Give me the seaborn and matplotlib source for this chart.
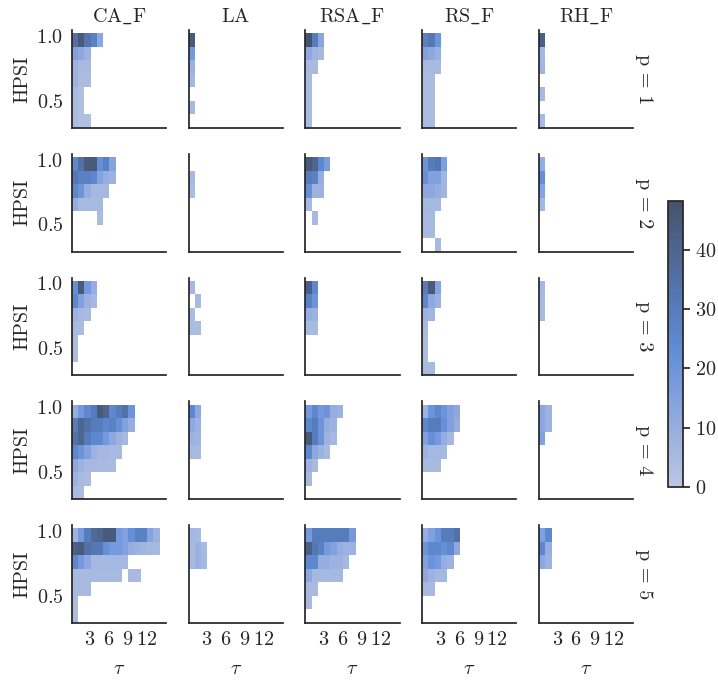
import numpy as np
import pandas as pd
import seaborn as sns
import matplotlib.pyplot as plt

methods = ['CA_F', 'LA', 'RSA_F', 'RS_F', 'RH_F']
ps = [1, 2, 3, 4, 5]

# counts per panel, one block per p; rows go from the top HPSI bin down,
# columns are tau bins from the left (trailing empty bins left out)
ca_f = [
    [[35, 45, 33, 28, 12], [15, 12, 8], [8, 5, 5], [8, 4, 4], [4, 3], [4, 3], [4, 3, 3]],
    [[25, 35, 45, 45, 22, 28, 14], [32, 28, 28, 25, 14, 10, 8], [25, 20, 10, 6, 6, 6],
     [10, 5, 5, 5, 5], [0, 0, 0, 0, 4], [], []],
    [[22, 45, 18, 10], [25, 15, 8, 6], [8, 6, 5], [5, 4], [4], [4], []],
    [[10, 18, 25, 30, 45, 40, 25, 30, 35, 20], [30, 40, 35, 30, 30, 25, 28, 22, 15, 10],
     [35, 40, 30, 25, 25, 18, 12, 8, 6], [25, 20, 15, 8, 6, 6, 5, 5],
     [12, 8, 6, 6, 5, 5, 5], [8, 5, 4], [4, 4]],
    [[8, 18, 30, 38, 40, 45, 45, 18, 15, 22, 28, 28, 14, 8],
     [42, 45, 35, 32, 32, 22, 18, 18, 15, 10, 8, 7, 6, 6],
     [25, 18, 12, 6, 6, 6, 6, 6, 6], [5, 5, 5, 5, 5, 5, 5, 5, 0, 5, 5],
     [5, 5, 5], [4], [4]],
]
la = [
    [[45], [18], [8], [6], [], [5], []],
    [[], [5], [4], [], [], [], []],
    [[6], [0, 5], [4], [4, 4], [], [], []],
    [[25, 12], [12, 8], [8, 7], [5, 5], [], [], []],
    [[6, 5], [5, 8, 5], [5, 8, 6], [], [], [], []],
]
rsa_f = [
    [[48, 30, 13], [12, 7, 6], [5, 5], [4], [4], [4], [4]],
    [[45, 40, 25, 17], [30, 28, 10], [22, 8, 8], [5], [0, 5], [], []],
    [[42, 25], [28, 20], [10, 8], [5, 5], [], [], []],
    [[18, 25, 18, 20, 10, 8], [25, 30, 20, 10, 8], [45, 30, 20, 8, 6],
     [25, 12, 8, 5], [8, 5], [5], []],
    [[18, 30, 30, 30, 30, 30, 30, 18], [42, 32, 28, 18, 15, 10, 8, 8],
     [25, 25, 10, 10, 8, 8, 6], [12, 6, 6, 6, 6, 6], [5, 5], [5], []],
]
rs_f = [
    [[28, 32, 20], [15, 12, 9], [5, 5, 5], [4, 4], [4, 4], [4, 4], [4, 4]],
    [[20, 30, 33, 16], [22, 15, 15, 7], [12, 12, 10, 7], [6, 6, 6], [5, 5], [5, 5], [0, 0, 5]],
    [[30, 45, 14], [25, 12, 8], [8, 7], [5], [4], [4], [5, 5]],
    [[8, 20, 25, 20, 15, 12], [25, 30, 30, 22, 15, 10], [15, 22, 18, 10, 6],
     [8, 6, 6, 5], [5, 5, 5], [], []],
    [[10, 15, 20, 30, 30, 35], [20, 25, 25, 22, 25, 12], [15, 20, 18, 10, 8],
     [12, 8, 6, 6], [5, 5], [], []],
]
rh_f = [
    [[42], [6], [7], [], [5], [], [5]],
    [[10], [22], [14], [6], [], [], []],
    [[6], [5], [5], [], [], [], []],
    [[12, 8], [12, 8], [15], [], [], [], []],
    [[15, 25], [25, 10], [12, 8], [], [], [], []],
]

tau_edges = np.arange(0.1, 15.2, 1.0)
hpsi_edges = np.linspace(0.29, 1.02, 8)

rows = []
for name, blocks in zip(methods, [ca_f, la, rsa_f, rs_f, rh_f]):
    for p, grid in zip(ps, blocks):
        for r, line in enumerate(grid):
            for c, n in enumerate(line):
                if n > 0:
                    rows.append({'method': name, 'p': p,
                                 'tau': (tau_edges[c] + tau_edges[c + 1]) / 2,
                                 'hpsi': (hpsi_edges[6 - r] + hpsi_edges[7 - r]) / 2,
                                 'n': n})
df = pd.DataFrame(rows)

fs = 14.5
sns.set_theme(style='white')
plt.rcParams['font.family'] = ['cmr10']
plt.rcParams['mathtext.fontset'] = 'cm'
plt.rcParams['axes.formatter.use_mathtext'] = True
plt.rcParams['font.size'] = fs

g = sns.FacetGrid(df, row='p', col='method', col_order=methods, row_order=ps,
                  margin_titles=True, height=1.4, aspect=1.0)
g.map_dataframe(sns.histplot, x='tau', y='hpsi', weights='n',
                bins=[tau_edges, hpsi_edges], vmin=0, vmax=48.3)
g.set_titles(col_template='{col_name}', row_template='p = {row_name}', size=fs)
for ax, name in zip(g.axes[0], methods):
    ax.set_title(r'$\mathrm{' + name.replace('_', r'\_') + '}$', fontsize=fs)
g.set_axis_labels(r'$\tau$', 'HPSI', fontsize=fs)
g.set(xticks=[3, 6, 9, 12], yticks=[0.5, 1.0], xlim=(0.1, 15.1), ylim=(0.29, 1.045))
for ax in g.axes.flat:
    ax.tick_params(labelsize=fs, length=0, pad=6)
for ax in g.axes[-1]:
    ax.xaxis.labelpad = 8

fig = g.figure
fig.set_size_inches(7.18, 6.82)
fig.subplots_adjust(left=71.7 / 718, right=633.3 / 718, bottom=1 - 623 / 682,
                    top=1 - 30 / 682, wspace=0.239, hspace=0.263)

cax = fig.add_axes([668.3 / 718, 1 - 486.7 / 682, 14.4 / 718, 285.7 / 682])
cb = fig.colorbar(g.axes[0, 0].collections[0], cax=cax)
cb.set_ticks([0, 10, 20, 30, 40])
cax.tick_params(length=5, width=1.25, labelsize=fs, pad=4)
cb.outline.set_linewidth(1.25)
cb.outline.set_edgecolor('.15')

fig.savefig('out.png', dpi=100)
